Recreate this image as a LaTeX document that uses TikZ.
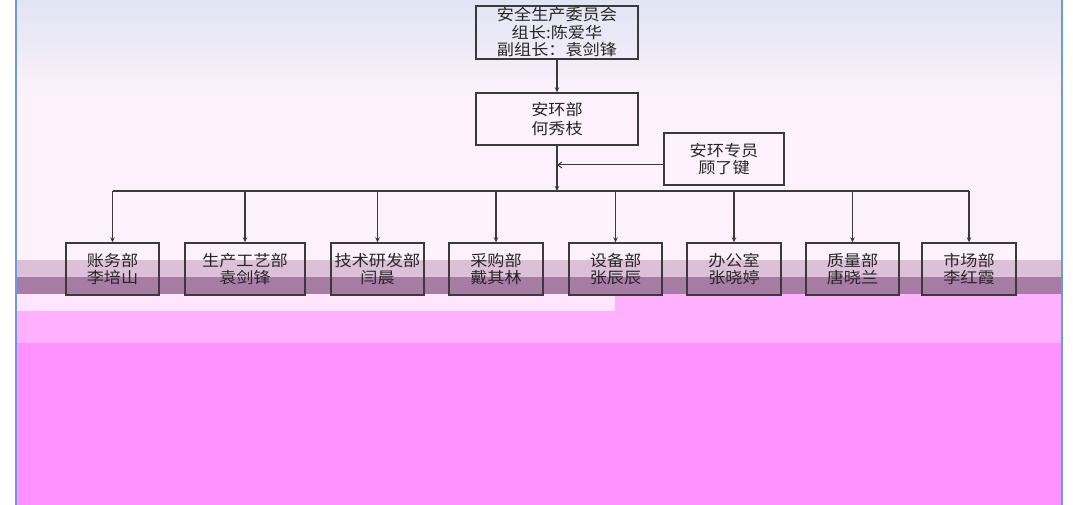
\documentclass[tikz,border=0pt]{standalone}
\usepackage{fontspec}
\newfontfamily\cjk[FakeStretch=1.1]{Noto Sans CJK SC}
\usetikzlibrary{arrows.meta}
\definecolor{frameblue}{HTML}{6C9BD6}
\definecolor{skytop}{HTML}{E1E4F4}
\definecolor{skylow}{HTML}{FDF2FB}
\definecolor{bandlight}{HTML}{DCC0D7}
\definecolor{banddark}{HTML}{A67CA4}
\definecolor{palepink}{HTML}{FFE6FE}
\definecolor{midpink}{HTML}{FFB0FF}
\definecolor{deeppink}{HTML}{FF92FF}
\definecolor{boxline}{HTML}{3A3A3A}
\definecolor{txt}{HTML}{262626}

\begin{document}
\begin{tikzpicture}[x=1pt,y=-1pt,
    box/.style={draw=boxline, line width=1.4pt, minimum width=93pt, minimum height=52pt,
      inner sep=0pt, align=center, text=txt, font=\cjk\fontsize{15.6}{17.5}\selectfont},
    link/.style={draw=boxline, line width=1.1pt, -{Stealth[length=5pt,width=4.5pt]}}]
  \useasboundingbox (0,0) rectangle (1073,505);
  \fill[white] (0,0) rectangle (1073,505);
  \shade[top color=skytop, bottom color=skylow] (16,0) rectangle (1062,100);
  \fill[skylow] (16,100) rectangle (1062,260);
  \fill[bandlight] (16,260) rectangle (1062,277);
  \fill[banddark] (16,277) rectangle (1062,294);
  \fill[palepink] (16,294) rectangle (1062,311);
  \fill[midpink] (615,294) rectangle (1062,311);
  \fill[midpink] (16,311) rectangle (1062,343);
  \fill[deeppink] (16,343) rectangle (1062,505);
  \draw[frameblue, line width=1.5pt] (16,0) -- (16,505);
  \draw[frameblue, line width=1.5pt] (1062,0) -- (1062,505);

  \node[box, minimum width=162pt, minimum height=53pt] (cmte) at (557,32.5)
    {安全生产委员会\\组长:陈爱华\\副组长：袁剑锋};
  \node[box, minimum width=162pt, font=\cjk\fontsize{15.6}{19}\selectfont] (hse) at (557,119)
    {安环部\\何秀枝};
  \node[box, minimum width=120pt] (hsespec) at (724,159) {安环专员\\顾了键};
  \coordinate (bus) at (557,191);

  \node[box] (zw) at (112.5,269) {账务部\\李培山};
  \node[box, minimum width=120pt] (gy) at (245,269) {生产工艺部\\袁剑锋};
  \node[box] (yf) at (377.5,269) {技术研发部\\闫晨};
  \node[box, minimum width=94pt] (cg) at (496,269) {采购部\\戴其林};
  \node[box] (sb) at (615.5,269) {设备部\\张辰辰};
  \node[box, minimum width=94pt] (bgs) at (734,269) {办公室\\张晓婷};
  \node[box] (zl) at (852.5,269) {质量部\\唐晓兰};
  \node[box, minimum width=94pt] (sc) at (969,269) {市场部\\李红霞};

  \draw[link] (cmte) -- (hse);
  \draw[link] (hse) -- (bus);
  \draw[draw=boxline, line width=1pt, -{Straight Barb[length=4pt,width=6pt]}]
    ([yshift=-6pt]hsespec.west) -- ([yshift=-6pt]hsespec.west -| bus);
  \draw[draw=boxline, line width=1.1pt] (zw.north |- bus) -- (sc.north |- bus);
  \foreach \d in {zw,gy,yf,cg,sb,bgs,zl,sc}
    \draw[link] (\d.north |- bus) -- (\d.north);
\end{tikzpicture}
\end{document}
